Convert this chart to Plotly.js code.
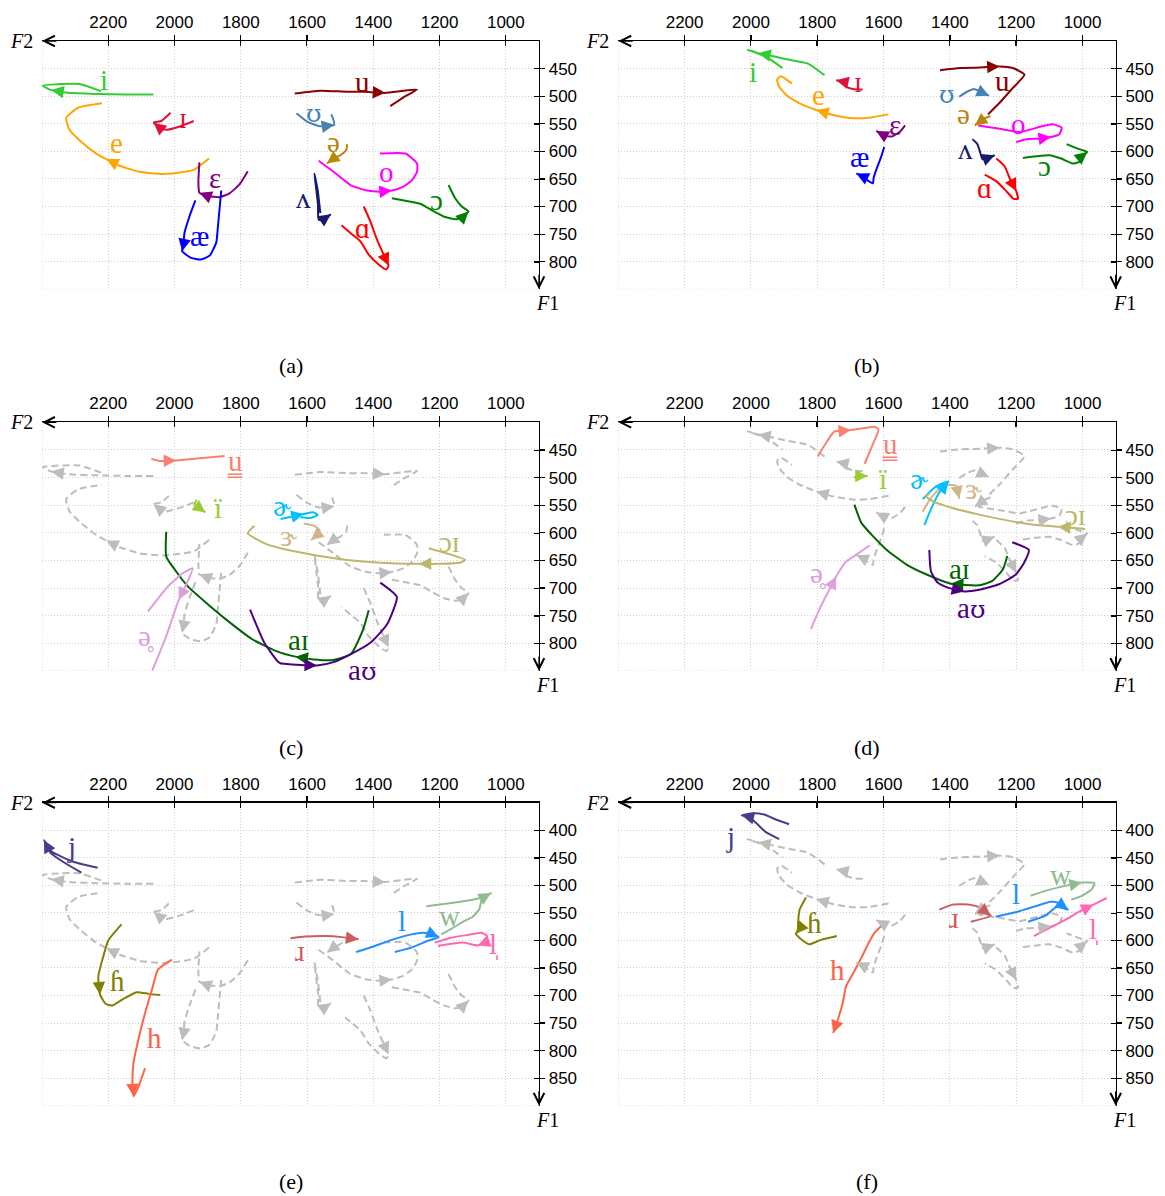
<!DOCTYPE html>
<html><head><meta charset="utf-8">
<script src="https://cdn.plot.ly/plotly-3.0.1.min.js"></script>
<style>html,body{margin:0;padding:0;background:#fff}</style>
</head><body><div id="chart" style="width:1165px;height:1196px"></div>
<script>
// ---------- axes ----------
const X_TICKS = [2200, 2000, 1800, 1600, 1400, 1200, 1000];
const Y_TICKS_ABCD = [450, 500, 550, 600, 650, 700, 750, 800];
const Y_TICKS_EF = [400, 450, 500, 550, 600, 650, 700, 750, 800, 850];
const PANEL_NAMES = ['(a)', '(b)', '(c)', '(d)', '(e)', '(f)'];

// ---------- panel (a): monophthongs, speaker 1 (F2, F1 in Hz) ----------
const a_i_f2 = [2064, 2150, 2230, 2320, 2372, 2398, 2340, 2287, 2222];
const a_i_f1 = [497, 497, 496, 494, 489, 481, 478, 478, 491];
const a_I_f2 = [1942, 1980, 2025, 2045, 2063, 2040, 2012];
const a_I_f1 = [545, 554, 561, 557, 548, 545, 530];
const a_e_f2 = [1896, 1940, 1970, 2035, 2106, 2166, 2206, 2236, 2281, 2317, 2327, 2291, 2219];
const a_e_f1 = [613, 633, 637, 641, 637, 626, 614, 604, 583, 561, 539, 521, 513];
const a_E_f2 = [1779, 1804, 1834, 1864, 1900, 1925, 1928, 1925];
const a_E_f1 = [636, 660, 676, 683, 681, 675, 655, 620];
const a_ae_f2 = [1937, 1955, 1970, 1973, 1977, 1950, 1920, 1894, 1874, 1869, 1859];
const a_ae_f1 = [689, 718, 748, 769, 781, 793, 796, 789, 765, 736, 671];
const a_u_f2 = [1637, 1560, 1479, 1429, 1364, 1309, 1268, 1309, 1349];
const a_u_f1 = [495, 490, 492, 492, 494, 490, 488, 502, 518];
const a_U_f2 = [1632, 1600, 1565, 1540, 1518, 1522, 1527];
const a_U_f1 = [531, 546, 554, 554, 552, 540, 533];
const a_schwa_f2 = [1479, 1482, 1500, 1520, 1540];
const a_schwa_f1 = [587, 598, 607, 613, 622];
const a_o_f2 = [1565, 1520, 1469, 1419, 1379, 1344, 1309, 1283, 1268, 1268, 1303, 1380];
const a_o_f1 = [617, 637, 661, 671, 673, 671, 664, 652, 637, 622, 604, 604];
const a_V_f2 = [1560, 1568, 1578, 1572, 1567, 1565, 1550, 1528];
const a_V_f1 = [712, 670, 640, 670, 697, 724, 723, 714];
const a_A_f2 = [1429, 1409, 1389, 1369, 1354, 1361, 1384, 1414, 1439, 1469, 1496];
const a_A_f1 = [700, 727, 760, 787, 807, 814, 805, 787, 763, 748, 734];
const a_O_f2 = [1344, 1299, 1258, 1223, 1188, 1150, 1128, 1113, 1133, 1153, 1173];
const a_O_f1 = [685, 690, 695, 707, 718, 723, 718, 709, 700, 685, 661];

// ---------- panel (b): monophthongs, speaker 2 ----------
const b_i_f2 = [1778, 1828, 1893, 1953, 1978, 2010, 1953, 1905];
const b_i_f1 = [462, 441, 433, 425, 422, 416, 429, 449];
const b_I_f2 = [1663, 1693, 1713, 1721, 1743];
const b_I_f1 = [488, 487, 482, 474, 471];
const b_e_f2 = [1585, 1643, 1688, 1753, 1803, 1853, 1893, 1916, 1921, 1911, 1895, 1876];
const b_e_f1 = [533, 539, 540, 534, 525, 513, 498, 482, 470, 464, 469, 477];
const b_E_f2 = [1535, 1550, 1575, 1598, 1622];
const b_E_f1 = [553, 564, 573, 571, 563];
const b_ae_f2 = [1598, 1608, 1620, 1630, 1632, 1645, 1665, 1682];
const b_ae_f1 = [592, 611, 630, 648, 658, 654, 645, 640];
const b_u_f2 = [1430, 1370, 1310, 1250, 1210, 1175, 1210, 1250, 1285];
const b_u_f1 = [453, 449, 448, 446, 449, 461, 485, 512, 533];
const b_U_f2 = [1372, 1348, 1328, 1308, 1282];
const b_U_f1 = [501, 492, 487, 492, 499];
const b_schwa_f2 = [1278, 1298, 1325];
const b_schwa_f1 = [536, 541, 553];
const b_o_f2 = [1200, 1170, 1130, 1095, 1070, 1063, 1090, 1125, 1160, 1190, 1250, 1315];
const b_o_f1 = [583, 578, 577, 574, 569, 557, 551, 555, 561, 565, 559, 553];
const b_V_f2 = [1332, 1318, 1310, 1302, 1290, 1265];
const b_V_f1 = [578, 586, 599, 614, 613, 607];
const b_A_f2 = [1260, 1235, 1218, 1200, 1195, 1208, 1230, 1260, 1295];
const b_A_f1 = [613, 627, 651, 672, 686, 686, 672, 654, 642];
const b_O_f2 = [1180, 1140, 1100, 1065, 1030, 1010, 1000, 986, 1010, 1048];
const b_O_f1 = [612, 609, 607, 613, 622, 619, 608, 601, 596, 587];

// ---------- panel (c): diphthongs etc., speaker 1 ----------
const c_u_f2 = [2070, 2045, 1995, 1925, 1849];
const c_u_f1 = [466, 470, 469, 465, 461];
const c_i_f2 = [1933, 1940, 1925, 1907];
const c_i_f1 = [540, 549, 555, 563];
const c_er_f2 = [1680, 1640, 1610, 1580, 1568, 1590, 1620];
const c_er_f1 = [575, 570, 566, 563, 568, 573, 572];
const c_3r_f2 = [1610, 1580, 1562, 1572, 1588];
const c_3r_f1 = [583, 587, 595, 605, 613];
const c_oi_f2 = [1233, 1123, 1138, 1198, 1263, 1379, 1479, 1580, 1680, 1724, 1779, 1759];
const c_oi_f1 = [628, 649, 654, 656, 656, 654, 649, 640, 628, 620, 601, 587];
const c_ai_f2 = [1414, 1431, 1467, 1520, 1580, 1635, 1693, 1764, 1844, 1904, 1960, 1995, 2025, 2025];
const c_ai_f1 = [740, 775, 819, 830, 829, 824, 814, 793, 757, 727, 697, 670, 643, 598];
const c_au_f2 = [1772, 1729, 1688, 1680, 1620, 1570, 1520, 1469, 1409, 1359, 1329, 1379];
const c_au_f1 = [739, 799, 833, 836, 839, 840, 834, 820, 799, 766, 716, 690];
const c_sch_f2 = [2080, 2020, 1975, 1945, 1963, 1987, 2025, 2067];
const c_sch_f1 = [742, 697, 673, 664, 691, 721, 787, 849];

// ---------- panel (d): diphthongs etc., speaker 2 ----------
const d_u_f2 = [1799, 1774, 1749, 1698, 1652, 1627, 1615, 1632, 1657];
const d_u_f1 = [462, 438, 417, 414, 410, 408, 413, 439, 475];
const d_i_f2 = [1690, 1670, 1648];
const d_i_f1 = [500, 497, 497];
const d_er_f2 = [1477, 1457, 1432, 1404, 1442, 1482];
const d_er_f1 = [586, 557, 527, 507, 516, 539];
const d_3r_f2 = [1482, 1460, 1432, 1404, 1380, 1372];
const d_3r_f1 = [562, 539, 521, 513, 515, 538];
const d_oi_f2 = [992, 1032, 1074, 1152, 1232, 1312, 1392, 1444, 1472, 1462];
const d_oi_f1 = [593, 591, 589, 585, 577, 567, 555, 545, 534, 529];
const d_ai_f2 = [1227, 1240, 1272, 1312, 1397, 1472, 1532, 1592, 1632, 1667, 1688];
const d_ai_f1 = [642, 666, 687, 695, 692, 675, 657, 630, 606, 582, 549];
const d_au_f2 = [1462, 1457, 1437, 1402, 1357, 1312, 1252, 1202, 1177, 1162, 1212];
const d_au_f1 = [631, 670, 690, 700, 706, 703, 693, 676, 655, 631, 617];
const d_sch_f2 = [1819, 1794, 1769, 1743, 1713, 1683, 1642];
const d_sch_f1 = [774, 739, 709, 679, 652, 640, 623];

// ---------- panel (e): consonants, speaker 1 ----------
const e_j_f2 = [2281, 2332, 2374, 2394, 2370, 2301, 2232];
const e_j_f1 = [477, 459, 441, 418, 439, 458, 468];
const e_hh_f2 = [2160, 2200, 2215, 2230, 2225, 2208, 2188, 2157, 2114, 2078, 2043];
const e_hh_f1 = [571, 600, 629, 665, 698, 715, 718, 707, 694, 697, 699];
const e_h_f2 = [2008, 2050, 2068, 2089, 2109, 2124, 2127, 2124, 2109, 2089];
const e_h_f1 = [635, 653, 689, 732, 780, 823, 859, 883, 866, 832];
const e_r_f2 = [1650, 1605, 1545, 1495, 1445];
const e_r_f1 = [596, 593, 592, 594, 598];
const e_l_f2 = [1452, 1405, 1345, 1285, 1253, 1225, 1203, 1237, 1285, 1335];
const e_l_f1 = [621, 612, 599, 589, 586, 588, 594, 601, 613, 621];
const e_w_f2 = [1240, 1165, 1100, 1065, 1045, 1073, 1080, 1100, 1135, 1165, 1195];
const e_w_f1 = [538, 532, 526, 521, 514, 526, 543, 557, 568, 579, 589];
const e_sl_f2 = [1215, 1165, 1115, 1073, 1057, 1063, 1085, 1125, 1165, 1205];
const e_sl_f1 = [604, 595, 590, 586, 592, 604, 609, 604, 606, 610];

// ---------- panel (f): consonants, speaker 2 ----------
const f_j_f2 = [1915, 1956, 1984, 2006, 2028, 1991, 1958, 1923, 1885];
const f_j_f1 = [416, 403, 387, 376, 373, 369, 372, 381, 389];
const f_hh_f2 = [1834, 1853, 1858, 1858, 1865, 1842, 1824, 1789, 1741];
const f_hh_f1 = [522, 544, 571, 583, 588, 601, 607, 599, 592];
const f_h_f2 = [1592, 1627, 1647, 1665, 1691, 1713, 1723, 1738, 1752];
const f_h_f1 = [565, 586, 607, 629, 659, 683, 713, 744, 768];
const f_r_f2 = [1432, 1392, 1342, 1307, 1277, 1337];
const f_r_f1 = [544, 535, 535, 541, 555, 566];
const f_l_f2 = [1262, 1202, 1142, 1097, 1072, 1044, 1077, 1112, 1164];
const f_l_f1 = [557, 549, 538, 530, 532, 544, 539, 555, 566];
const f_w_f2 = [1157, 1112, 1052, 1002, 964, 972, 1002, 1034];
const f_w_f1 = [519, 510, 501, 495, 496, 507, 519, 526];
const f_sl_f2 = [1147, 1092, 1047, 1007, 967, 927];
const f_sl_f1 = [592, 575, 561, 547, 535, 523];

// ---------- label symbols and their spots (F2, F1) ----------
const MONO_SYMBOLS = ['i', 'ɪ', 'e', 'ɛ', 'æ', 'u', 'ʊ', 'ə', 'o', 'ʌ', 'ɑ', 'ɔ'];
const A_LABEL_F2 = [2213, 1975, 2176, 1879, 1925, 1434, 1580, 1519, 1359, 1610, 1434, 1208];
const A_LABEL_F1 = [471, 540, 585, 649, 754, 474, 531, 583, 637, 685, 739, 688];
const B_LABEL_F2 = [1993, 1676, 1795, 1565, 1673, 1240, 1408, 1360, 1192, 1352, 1295, 1115];
const B_LABEL_F1 = [456, 474, 498, 553, 610, 473, 497, 533, 551, 596, 667, 627];
const DIPH_SYMBOLS = ['u\u0333', 'ï', 'ɚ', 'ɝ', 'ɔɪ', 'aɪ', 'aʊ', 'ə\u0325'];
const C_LABEL_F2 = [1819, 1869, 1675, 1655, 1170, 1627, 1434, 2085];
const C_LABEL_F1 = [471, 555, 552, 605, 616, 793, 848, 787];
const D_LABEL_F2 = [1580, 1602, 1492, 1327, 1022, 1372, 1337, 1799];
const D_LABEL_F1 = [440, 503, 503, 521, 568, 666, 736, 673];
const CONS_SYMBOLS = ['j', 'ɦ', 'h', 'ɹ', 'l', 'w', 'l\u0329'];
const E_LABEL_F2 = [2311, 2172, 2060, 1620, 1315, 1170, 1037];
const E_LABEL_F1 = [430, 674, 777, 620, 565, 556, 607];
const F_LABEL_F2 = [2062, 1809, 1738, 1387, 1202, 1067, 967];
const F_LABEL_F1 = [413, 569, 653, 559, 516, 482, 580];

// ---------- styling ----------
const MONO_COLORS = ['#32CD32', '#DC143C', '#FFA500', '#800080', '#0000FF', '#8B0000', '#4682B4', '#B8860B', '#FF00FF', '#191970', '#FF0000', '#008000'];
const DIPH_COLORS = ['#FA8072', '#9ACD32', '#00BFFF', '#D2B48C', '#BDB76B', '#006400', '#4B0082', '#DDA0DD'];
const CONS_COLORS = ['#483D8B', '#808000', '#FF6347', '#CD5C5C', '#1E90FF', '#8FBC8F', '#FF69B4'];
const GREY = '#BDBDBD';

const A_SET = [[a_i_f2,a_i_f1,4],[a_I_f2,a_I_f1,4],[a_e_f2,a_e_f1,6],[a_E_f2,a_E_f1,5],[a_ae_f2,a_ae_f1,4],[a_u_f2,a_u_f1,4],[a_U_f2,a_U_f1,4],[a_schwa_f2,a_schwa_f1,4],[a_o_f2,a_o_f1,5],[a_V_f2,a_V_f1,7],[a_A_f2,a_A_f1,4],[a_O_f2,a_O_f1,7]];
const B_SET = [[b_i_f2,b_i_f1,4],[b_I_f2,b_I_f1,4],[b_e_f2,b_e_f1,4],[b_E_f2,b_E_f1,4],[b_ae_f2,b_ae_f1,7],[b_u_f2,b_u_f1,3],[b_U_f2,b_U_f1,4],[b_schwa_f2,b_schwa_f1,2],[b_o_f2,b_o_f1,3],[b_V_f2,b_V_f1,5],[b_A_f2,b_A_f1,3],[b_O_f2,b_O_f1,7]];
const C_SET = [[c_u_f2,c_u_f1,2],[c_i_f2,c_i_f1,3],[c_er_f2,c_er_f1,2],[c_3r_f2,c_3r_f1,4],[c_oi_f2,c_oi_f1,4],[c_ai_f2,c_ai_f1,5],[c_au_f2,c_au_f1,5],[c_sch_f2,c_sch_f1,5]];
const D_SET = [[d_u_f2,d_u_f1,3],[d_i_f2,d_i_f1,2],[d_er_f2,d_er_f1,3],[d_3r_f2,d_3r_f1,5],[d_oi_f2,d_oi_f1,2],[d_ai_f2,d_ai_f1,4],[d_au_f2,d_au_f1,4],[d_sch_f2,d_sch_f1,3]];
const E_SET = [[e_j_f2,e_j_f1,3],[e_hh_f2,e_hh_f1,4],[e_h_f2,e_h_f1,7],[e_r_f2,e_r_f1,4],[e_l_f2,e_l_f1,6],[e_w_f2,e_w_f1,4],[e_sl_f2,e_sl_f1,6]];
const F_SET = [[f_j_f2,f_j_f1,4],[f_hh_f2,f_hh_f1,4],[f_h_f2,f_h_f1,8],[f_r_f2,f_r_f1,4],[f_l_f2,f_l_f1,5],[f_w_f2,f_w_f1,3],[f_sl_f2,f_sl_f1,4]];

// panel geometry (paper fractions; margins are zero)
const W = 1165, H = 1196;
const COLX = [[42/W, 539/W], [618.3/W, 1115.7/W]];
const ROWY = [[1-289.3/H, 1-41/H], [1-671/H, 1-422.3/H], [1-1105.7/H, 1-802.7/H]];
const ROW_RANGE = [[850, 400], [850, 400], [900, 350]];
const ROW_TICKS = [Y_TICKS_ABCD, Y_TICKS_ABCD, Y_TICKS_EF];

const traces = [], annotations = [], shapes = [];
const layout = {width: W, height: H, margin: {l:0, r:0, t:0, b:0}, autosize: false,
  paper_bgcolor: '#fff', plot_bgcolor: '#fff', showlegend: false};

const TICKFONT = {family: 'Liberation Sans, Arial, sans-serif', size: 17, color: '#000'};
const SERIF = 'Liberation Serif, DejaVu Serif, serif';
const GRIDC = '#cfcfcf';

function sfx(p) { return p === 1 ? '' : String(p); }
// the upsilon glyph is taken from DejaVu Serif, which draws it in the usual IPA shape
function ipa(t) { return t.replace(/ʊ/g, '<span style="font-family:DejaVu Serif;font-size:25px">ʊ</span>'); }

function addTraj(p, f2, f1, head, color, dashed) {
  const s = sfx(p);
  traces.push({type: 'scatter', mode: 'lines', x: f2, y: f1, xaxis: 'x' + s, yaxis: 'y' + s,
    line: {color: color, width: 2, dash: dashed ? '7px,4px' : 'solid', shape: 'spline', smoothing: 0.5},
    hoverinfo: 'skip', showlegend: false});
  const sx = 497 / 1500, sy = 0.5515;
  const dx = -(f2[head - 1] - f2[head]) * sx, dy = (f1[head - 1] - f1[head]) * sy;
  const len = Math.hypot(dx, dy) || 1;
  annotations.push({xref: 'x' + s, yref: 'y' + s, x: f2[head], y: f1[head],
    ax: dx / len * 6, ay: dy / len * 6, showarrow: true, arrowhead: 2, arrowsize: 1.25,
    arrowwidth: 2, arrowcolor: color, text: ''});
}
function addLabels(p, syms, lf2, lf1, colors) {
  const s = sfx(p);
  syms.forEach((t, k) => annotations.push({xref: 'x' + s, yref: 'y' + s, x: lf2[k], y: lf1[k],
    text: ipa(t), showarrow: false, font: {family: SERIF, size: 29, color: colors[k]}}));
}

for (let p = 1; p <= 6; p++) {
  const s = sfx(p), col = (p - 1) % 2, row = Math.floor((p - 1) / 2);
  layout['xaxis' + s] = {domain: COLX[col], anchor: 'y' + s, side: 'top', range: [2400, 900],
    tickmode: 'array', tickvals: X_TICKS, ticktext: X_TICKS.map(String),
    ticks: 'outside', ticklen: 5, tickwidth: 1.2, tickcolor: '#000',
    minor: {tickmode: 'array', tickvals: X_TICKS.map(v => v + 0.5), ticks: 'inside', ticklen: 5, tickwidth: 1.2, tickcolor: '#000', showgrid: false},
    showline: true, linecolor: '#000', linewidth: 1.3, showgrid: true, gridcolor: GRIDC,
    griddash: '1px,2px', gridwidth: 1, zeroline: false, tickfont: TICKFONT, fixedrange: true, automargin: false};
  const yt = ROW_TICKS[row];
  layout['yaxis' + s] = {domain: ROWY[row], anchor: 'x' + s, side: 'right', range: ROW_RANGE[row],
    tickmode: 'array', tickvals: yt, ticktext: yt.map(String),
    ticks: 'outside', ticklen: 5, tickwidth: 1.2, tickcolor: '#000',
    minor: {tickmode: 'array', tickvals: yt.map(v => v + 0.5), ticks: 'inside', ticklen: 5, tickwidth: 1.2, tickcolor: '#000', showgrid: false},
    showline: true, linecolor: '#000', linewidth: 1.3, showgrid: true, gridcolor: GRIDC,
    griddash: '1px,2px', gridwidth: 1, zeroline: false, tickfont: TICKFONT, fixedrange: true, automargin: false};
  // frame grid lines on the open edges
  shapes.push({type: 'line', xref: 'x' + s, yref: 'y' + s + ' domain', x0: 2400, x1: 2400, y0: 0, y1: 1,
    line: {color: GRIDC, width: 1, dash: '1px,2px'}, layer: 'below'});
  shapes.push({type: 'line', xref: 'x' + s + ' domain', yref: 'y' + s, x0: 0, x1: 1, y0: ROW_RANGE[row][0], y1: ROW_RANGE[row][0],
    line: {color: GRIDC, width: 1, dash: '1px,2px'}, layer: 'below'});
  // axis arrow heads
  annotations.push({xref: 'x' + s + ' domain', yref: 'y' + s + ' domain', x: 0, y: 1, ax: 16, ay: 0,
    showarrow: true, arrowhead: 5, arrowsize: 1.6, arrowwidth: 1.3, arrowcolor: '#000', text: ''});
  annotations.push({xref: 'x' + s + ' domain', yref: 'y' + s + ' domain', x: 1, y: 0, ax: 0, ay: -16,
    showarrow: true, arrowhead: 5, arrowsize: 1.6, arrowwidth: 1.3, arrowcolor: '#000', text: ''});
  annotations.push({xref: 'x' + s + ' domain', yref: 'y' + s + ' domain', x: 0, y: 1, xanchor: 'right', yanchor: 'middle',
    xshift: -7, text: '<i>F</i>2', showarrow: false, font: {family: SERIF, size: 20, color: '#000'}});
  annotations.push({xref: 'x' + s + ' domain', yref: 'y' + s + ' domain', x: 1, y: 0, xanchor: 'left', yanchor: 'top',
    xshift: -5, yshift: -1, text: '<i>F</i>1', showarrow: false, font: {family: SERIF, size: 20, color: '#000'}});
  annotations.push({xref: 'x' + s + ' domain', yref: 'y' + s + ' domain', x: 0.5, y: 0, xanchor: 'center', yanchor: 'middle',
    yshift: -76, text: PANEL_NAMES[p - 1], showarrow: false, font: {family: SERIF, size: 22, color: '#000'}});
}

// grey reference trajectories (monophthongs) behind panels c-f
[[3, A_SET], [4, B_SET], [5, A_SET], [6, B_SET]].forEach(([p, set]) =>
  set.forEach(([f2, f1, h]) => addTraj(p, f2, f1, h, GREY, true)));

A_SET.forEach(([f2, f1, h], k) => addTraj(1, f2, f1, h, MONO_COLORS[k], false));
B_SET.forEach(([f2, f1, h], k) => addTraj(2, f2, f1, h, MONO_COLORS[k], false));
C_SET.forEach(([f2, f1, h], k) => addTraj(3, f2, f1, h, DIPH_COLORS[k], false));
D_SET.forEach(([f2, f1, h], k) => addTraj(4, f2, f1, h, DIPH_COLORS[k], false));
E_SET.forEach(([f2, f1, h], k) => addTraj(5, f2, f1, h, CONS_COLORS[k], false));
F_SET.forEach(([f2, f1, h], k) => addTraj(6, f2, f1, h, CONS_COLORS[k], false));

addLabels(1, MONO_SYMBOLS, A_LABEL_F2, A_LABEL_F1, MONO_COLORS);
addLabels(2, MONO_SYMBOLS, B_LABEL_F2, B_LABEL_F1, MONO_COLORS);
addLabels(3, DIPH_SYMBOLS, C_LABEL_F2, C_LABEL_F1, DIPH_COLORS);
addLabels(4, DIPH_SYMBOLS, D_LABEL_F2, D_LABEL_F1, DIPH_COLORS);
addLabels(5, CONS_SYMBOLS, E_LABEL_F2, E_LABEL_F1, CONS_COLORS);
addLabels(6, CONS_SYMBOLS, F_LABEL_F2, F_LABEL_F1, CONS_COLORS);

layout.annotations = annotations;
layout.shapes = shapes;
Plotly.newPlot('chart', traces, layout, {staticPlot: true, displayModeBar: false});
</script></body></html>
